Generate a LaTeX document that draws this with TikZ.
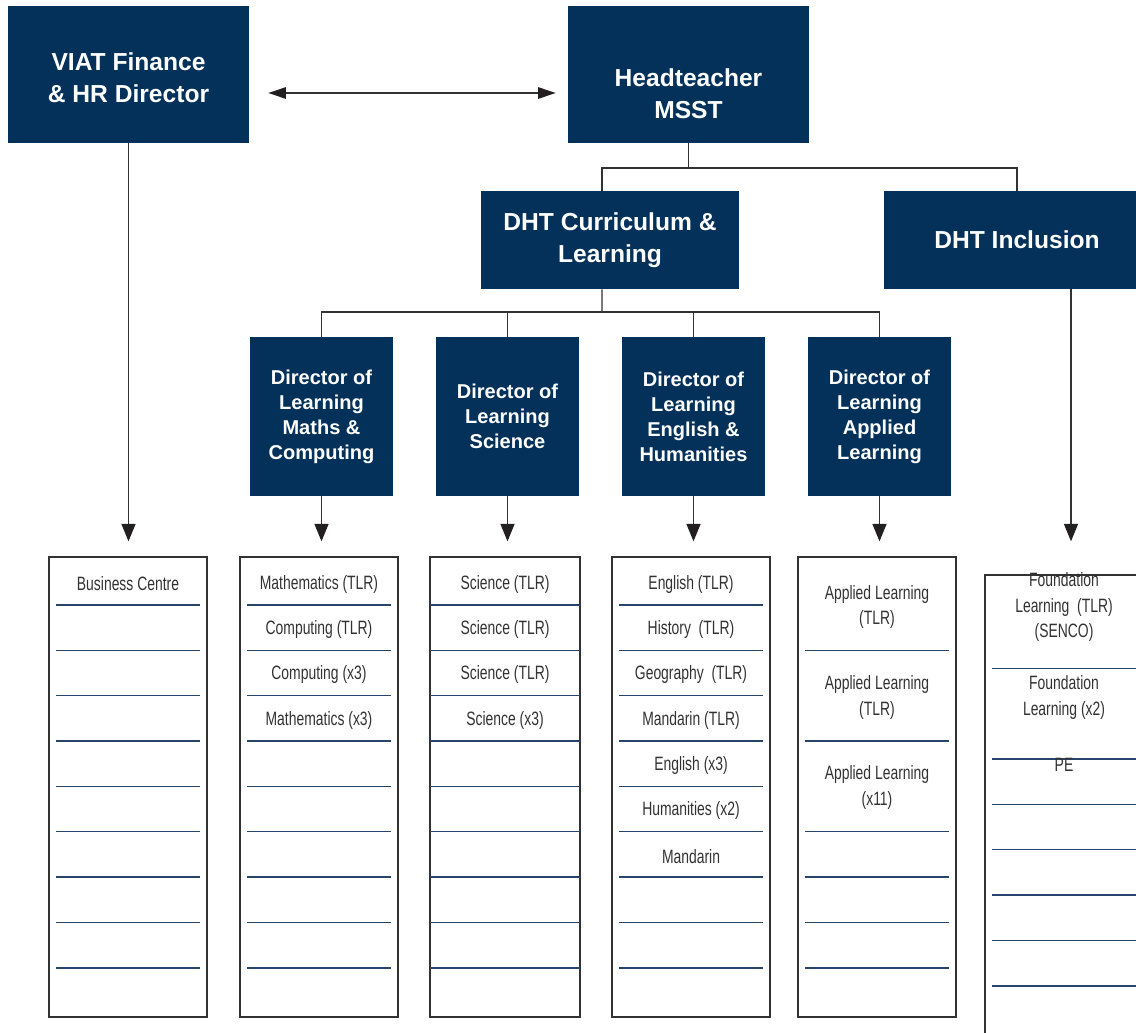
\documentclass[tikz,border=0pt]{standalone}
\usepackage{fontspec}
\setmainfont{Liberation Sans}
\newfontfamily\narrowfont[FakeStretch=0.72]{Liberation Sans}
\usetikzlibrary{arrows.meta}

\definecolor{navy}{RGB}{3,49,90}
\definecolor{linegray}{RGB}{50,50,50}
\definecolor{tipblack}{RGB}{35,31,32}
\definecolor{sepblue}{RGB}{40,68,108}
\definecolor{txtgray}{RGB}{50,50,50}

\tikzset{
  ttl/.style={text=white, align=center, font=\bfseries\fontsize{14}{18.1}\selectfont},
  topbox/.style={ttl, fill=navy, inner sep=0pt, minimum width=4.82cm, minimum height=2.74cm},
  midbox/.style={ttl, fill=navy, inner sep=0pt, minimum height=1.96cm},
  dirbox/.style={text=white, align=center, font=\bfseries\fontsize{11.4}{14.2}\selectfont,
    fill=navy, inner sep=0pt, minimum width=2.86cm, minimum height=3.18cm},
  listbox/.style={draw=linegray, line width=0.8pt, minimum width=3.16cm, minimum height=9.2cm, inner sep=0pt},
  item/.style={text=txtgray, align=center, inner sep=0pt, font=\narrowfont\fontsize{11}{14.5}\selectfont},
  sep/.style={draw=sepblue, line width=0.8pt},
  conn/.style={draw=linegray, line width=0.8pt},
  arr/.style={conn, -{Triangle[width=8pt,length=10pt,color=tipblack,fill=tipblack]}},
  dblarr/.style={conn, {Triangle[width=6.5pt,length=10pt,color=tipblack,fill=tipblack]}-{Triangle[width=6.5pt,length=10pt,color=tipblack,fill=tipblack]}}
}

\begin{document}
\begin{tikzpicture}[x=0.02cm, y=-0.02cm]
    \useasboundingbox (0,0) rectangle (1136,1032);

    % top row
    \node[topbox, label={[ttl, yshift=-0.07cm]center:{VIAT Finance\\\& HR Director}}] (viat) at (128.5,74.5) {};
    \node[topbox, label={[ttl, yshift=-0.38cm]center:{Headteacher\\MSST}}] (head) at (688.5,74.5) {};

    % deputies
    \node[midbox, minimum width=5.16cm] (dhtcl) at (610,240) {DHT Curriculum \&\\Learning};
    \node[midbox, minimum width=5.32cm] (dhtinc) at (1017,240) {DHT Inclusion};

    % directors of learning
    \node[dirbox] (dmath) at (321.5,416.5) {Director of\\Learning\\Maths \&\\Computing};
    \node[dirbox] (dsci) at (507.5,416.5) {Director of\\Learning\\Science};
    \node[dirbox] (deng) at (693.5,416.5) {Director of\\Learning\\English \&\\Humanities};
    \node[dirbox] (dapp) at (879.5,416.5) {Director of\\Learning\\Applied\\Learning};

    % staff lists
    \node[listbox] (lbus) at (128,787) {};
    \node[listbox] (lmath) at (319,787) {};
    \node[listbox, minimum width=3cm] (lsci) at (505,787) {};
    \node[listbox] (leng) at (691,787) {};
    \node[listbox] (lapp) at (877,787) {};
    \node[listbox, minimum width=3.44cm, minimum height=9.3cm] (lfnd) at (1071,807.5) {};

    % tree lines
    \coordinate (hbus) at (688.5,168);
    \coordinate (dbus) at (602,312);
    \draw[conn] (head) -- (hbus);
    \draw[conn] ([xshift=-0.16cm]dhtcl.north) |- (hbus) -| (dhtinc.north);
    \draw[conn] ([xshift=-0.16cm]dhtcl.south) -- (dbus);
    \foreach \d in {dmath,dsci,deng,dapp}
        \draw[conn] (\d.north) |- (dbus);

    \draw[dblarr] ([shift={(0.38cm,-0.37cm)}]viat.east) -- ([shift={(-0.24cm,-0.37cm)}]head.west);
    \draw[arr, shorten >=0.3cm] (viat.south) -- (viat.south |- lbus.north);
    \foreach \d/\l in {dmath/lmath, dsci/lsci, deng/leng, dapp/lapp}
        \draw[arr, shorten >=0.3cm] (\d.south) -- (\d.south |- \l.north);
    \draw[arr, shorten >=0.66cm] (lfnd.north |- dhtinc.south) -- (lfnd.north);

    % row lines
    \foreach \xl/\xr in {56/200, 247/391, 430/580, 619/763}
        \foreach \k in {0,...,8}
            \draw[sep] (\xl,{605+45.35*\k}) -- (\xr,{605+45.35*\k});
    \foreach \k in {1,3,5,6,7,8}
        \draw[sep] (805,{605+45.35*\k}) -- (949,{605+45.35*\k});
    \foreach \k in {1,3,4,5,6,7,8}
        \draw[sep] (992,{623+45.35*\k}) -- (1157,{623+45.35*\k});

    % entries
    \node[item] (bus1) at (128,584) {Business Centre};
    \foreach \t [count=\i] in {{Mathematics (TLR)},{Computing (TLR)},{Computing (x3)},{Mathematics (x3)}}
        \node[item] (math\i) at (319,{584+45.35*(\i-1)}) {\t};
    \foreach \t [count=\i] in {{Science (TLR)},{Science (TLR)},{Science (TLR)},{Science (x3)}}
        \node[item] (sci\i) at (505,{584+45.35*(\i-1)}) {\t};
    \foreach \t [count=\i] in {{English (TLR)},{History~ (TLR)},{Geography~ (TLR)},{Mandarin (TLR)},{English (x3)},{Humanities (x2)},{Mandarin}}
        \node[item] (eng\i) at (691,{584+45.35*(\i-1)}) {\t};
    \node[item] (app1) at (877,607) {Applied Learning\\(TLR)};
    \node[item] (app2) at (877,697.5) {Applied Learning\\(TLR)};
    \node[item] (app3) at (877,787.5) {Applied Learning\\(x11)};
    \node[item] (fnd1) at (1064,607) {Foundation\\Learning~ (TLR)\\(SENCO)};
    \node[item] (fnd2) at (1064,697.5) {Foundation\\Learning (x2)};
    \node[item] (fnd3) at (1064,765) {PE};
\end{tikzpicture}
\end{document}
